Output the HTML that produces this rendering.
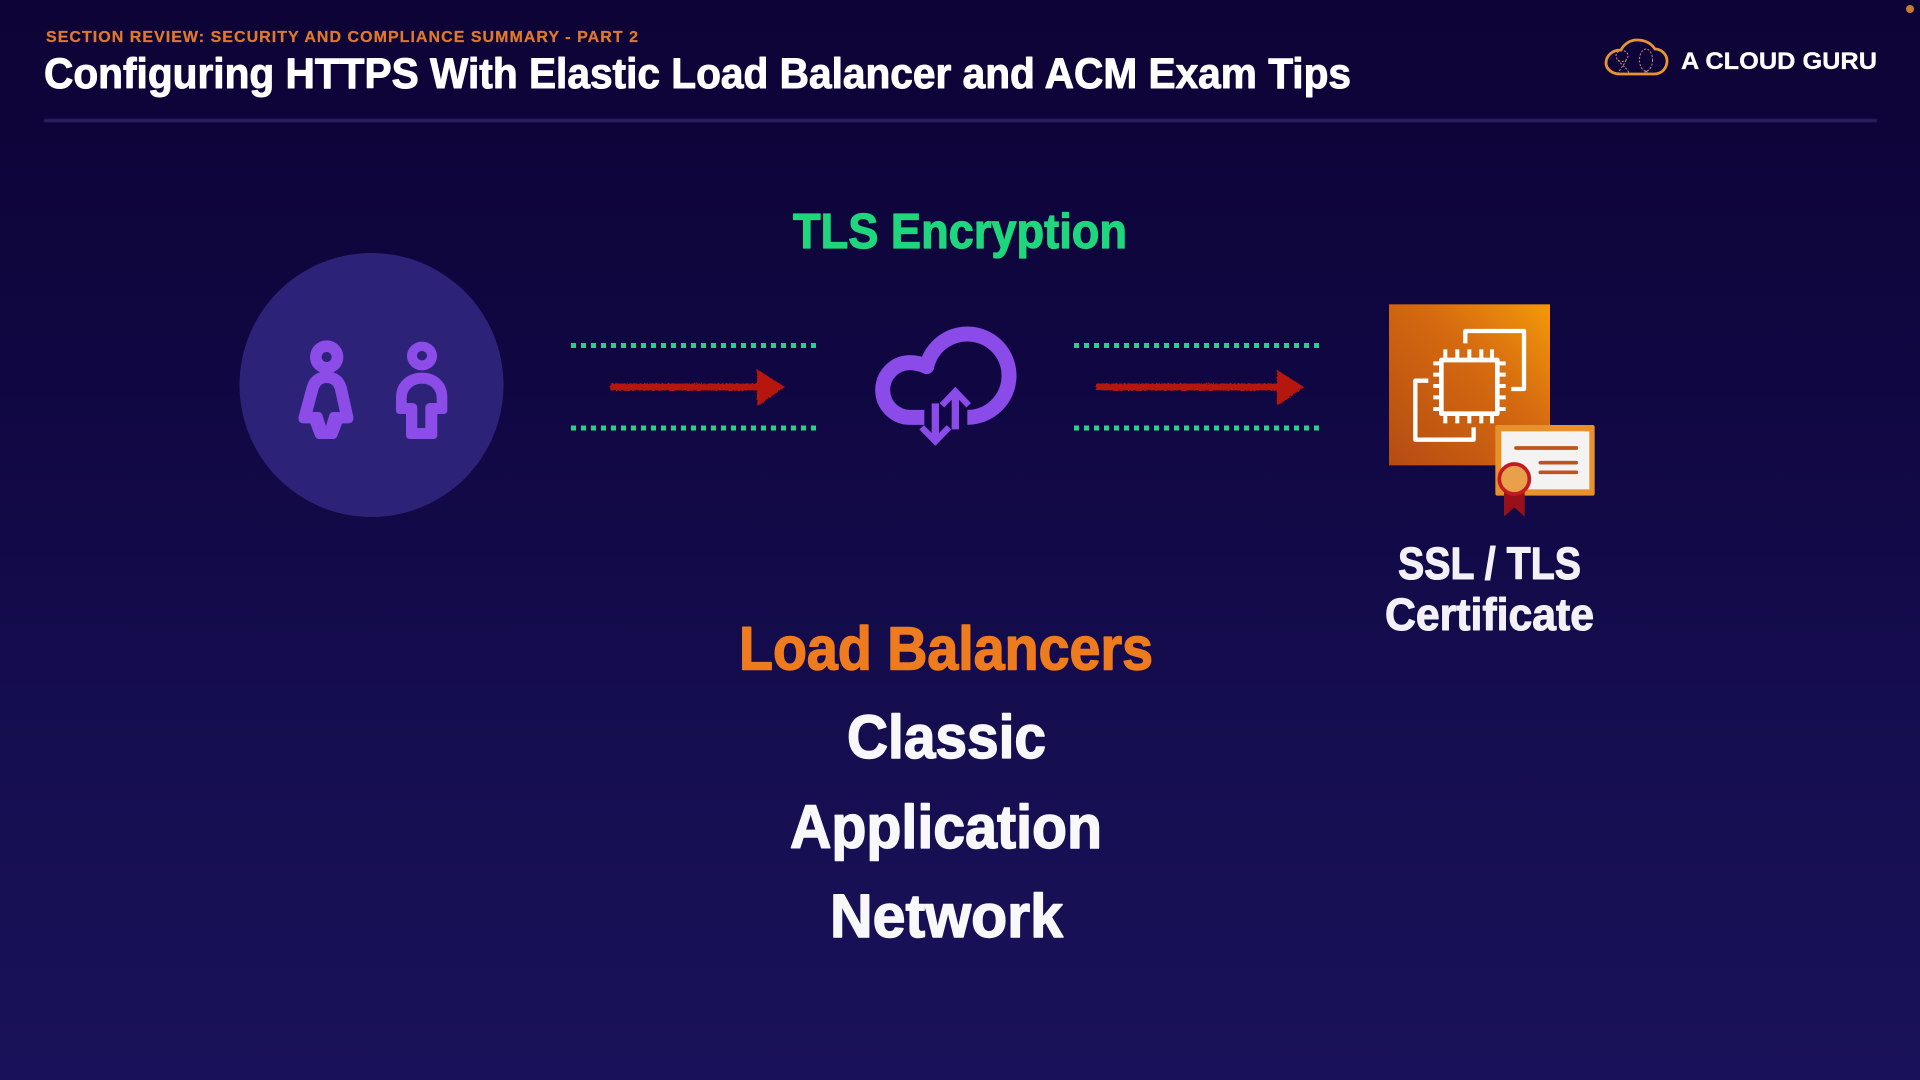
<!DOCTYPE html>
<html lang="en"><head><meta charset="utf-8"><title>Configuring HTTPS With Elastic Load Balancer and ACM Exam Tips</title>
<style>
html,body{margin:0;padding:0;width:1920px;height:1080px;overflow:hidden;background:#120a45}
svg{display:block}
text{font-family:"Liberation Sans",Arial,sans-serif;font-weight:700;stroke-linejoin:round}
</style></head><body>
<svg width="1920" height="1080" viewBox="0 0 1920 1080" xmlns="http://www.w3.org/2000/svg">
<defs>
<linearGradient id="bg" x1="0" y1="0" x2="0" y2="1">
<stop offset="0" stop-color="#0d0336"/><stop offset=".35" stop-color="#100742"/><stop offset=".7" stop-color="#150e50"/><stop offset="1" stop-color="#19125a"/>
</linearGradient>
<linearGradient id="aws" x1="0" y1="1" x2="1" y2="0">
<stop offset="0" stop-color="#b44c12"/><stop offset=".6" stop-color="#d56a10"/><stop offset="1" stop-color="#f3990b"/>
</linearGradient>
<filter id="rough" x="-5%" y="-50%" width="110%" height="200%">
<feTurbulence type="fractalNoise" baseFrequency=".5" numOctaves="2" seed="4"/>
<feDisplacementMap in="SourceGraphic" scale="3"/>
</filter>
<filter id="soft" x="-5%" y="-200%" width="110%" height="500%"><feGaussianBlur stdDeviation=".8"/></filter>
</defs>
<rect width="1920" height="1080" fill="url(#bg)"/>
<circle cx="1910" cy="9" r="4" fill="#cc7a33"/>

<!-- Header -->
<text x="46" y="42" font-size="16" fill="#e0782a" stroke="#e0782a" stroke-width=".25" textLength="592" lengthAdjust="spacing">SECTION REVIEW: SECURITY AND COMPLIANCE SUMMARY - PART 2</text>
<text x="44" y="88" font-size="43" fill="#ffffff" stroke="#ffffff" stroke-width="1" textLength="1307" lengthAdjust="spacingAndGlyphs">Configuring HTTPS With Elastic Load Balancer and ACM Exam Tips</text>
<rect x="44" y="119" width="1833" height="3" fill="#2a2260" filter="url(#soft)"/>

<!-- Logo -->
<g fill="none">
<path d="M1620 74 H1654 C1663 74 1667 67 1667 61 C1667 54 1661 49 1655 49 C1651 43 1645 40 1637 40 C1630 40 1624 44 1621 50 C1612 50 1606 56 1606 63 C1606 69 1612 74 1620 74 Z" stroke="#e8952f" stroke-width="2.800"/>
<g stroke="#c98a7a" stroke-width="1" stroke-dasharray="2 1.6">
<ellipse cx="1646" cy="60" rx="6.5" ry="11"/>
<path d="M1646 71 L1643 74 M1646 71 L1649 74"/>
<ellipse cx="1622" cy="56" rx="6" ry="5.500"/>
<path d="M1618 60 C1622 66 1628 68 1629 74 M1626 60 C1624 66 1620 68 1618 74"/>
</g>
</g>
<text x="1681" y="69" font-size="24" fill="#ffffff" stroke="#ffffff" stroke-width=".3" textLength="196" lengthAdjust="spacingAndGlyphs">A CLOUD GURU</text>

<!-- TLS title -->
<text x="793" y="248" font-size="49" fill="#1ed67c" stroke="#1ed67c" stroke-width="1.2" textLength="334" lengthAdjust="spacingAndGlyphs">TLS Encryption</text>

<!-- Users -->
<circle cx="371.500" cy="385" r="132" fill="#2c2278"/>
<g transform="translate(220 240) scale(.33333)" fill="#8b4ce8">
<path fill-rule="evenodd" d="M320 301a50 50 0 1 0 .01 0Z M320 336a15 15 0 1 1-.01 0Z"/>
<path fill-rule="evenodd" stroke="#8b4ce8" stroke-width="4" stroke-linejoin="round" d="M320 397 C355 397 370 415 378 440 L398 530 Q400 548 385 548 L365 548 L350 588 Q347 595 340 595 L297 595 Q290 595 287 588 L272 548 L250 548 Q235 548 238 530 L262 440 C270 415 285 397 320 397 Z M320 427 C305 427 297 435 293 450 L275 518 L295 518 Q302 518 305 525 L318 565 L330 525 Q333 518 340 518 L362 518 L347 450 C343 435 335 427 320 427 Z"/>
<path fill-rule="evenodd" d="M606 305a45 43 0 1 0 .01 0Z M606 333a15 14 0 1 1-.01 0Z"/>
<path fill-rule="evenodd" stroke="#8b4ce8" stroke-width="4" stroke-linejoin="round" d="M606 400 C650 400 680 430 680 470 L680 510 Q680 520 670 520 L650 520 L650 585 Q650 595 640 595 L570 595 Q560 595 560 585 L560 520 L540 520 Q530 520 530 510 L530 470 C530 430 562 400 606 400 Z M606 429 C580 429 558 447 558 475 L558 491 L575 491 Q590 491 590 505 L590 566 L618 566 L618 505 Q618 491 632 491 L652 491 L652 475 C652 447 632 429 606 429 Z"/>
</g>

<!-- Dotted lines -->
<g stroke="#27d288" stroke-width="5" stroke-dasharray="5 5" fill="none">
<path d="M571 345.500 H818"/>
<path d="M571 428 H818"/>
<path d="M1074 345.500 H1321"/>
<path d="M1074 428 H1321"/>
</g>

<!-- Red arrows -->
<g filter="url(#rough)" fill="#b5170f">
<rect x="610" y="383.500" width="152" height="7"/>
<path d="M757 370 Q756 369 758 370 L785 387 L759 405 Q757 406 757 404 Z"/>
<rect x="1096" y="383.500" width="185" height="7"/>
<path d="M1277 370 L1304 387 L1279 405 Q1277 406 1277 404 Z"/>
</g>

<!-- Cloud -->
<g transform="translate(560 310) scale(.33333)">
<path d="M1093 322 H1050 A82 82 0 0 1 1050 158 Q1075 158 1100 170 A125 125 0 1 1 1222 322" fill="none" stroke="#8a4be8" stroke-width="45" stroke-linecap="butt" stroke-linejoin="round"/>
<g fill="none" stroke="#8a4be8">
<path d="M1126 280 V392" stroke-width="22"/>
<path d="M1085 352 L1126 394 L1167 352" stroke-width="19"/>
<path d="M1186 358 V248" stroke-width="22"/>
<path d="M1146 286 L1186 244 L1226 286" stroke-width="19"/>
</g>
</g>

<!-- AWS icon + cert -->
<g transform="translate(1370 290) scale(.33333)">
<rect x="57" y="43" width="483" height="483" fill="url(#aws)"/>
<g fill="none" stroke="#ffffff" stroke-width="13" stroke-linejoin="round">
<path d="M286 160 V123 H462 V297 H424"/>
<path d="M175 272 H136 V449 H311 V412"/>
<rect x="214" y="210" width="168" height="161" stroke-width="14"/>
</g>
<g stroke="#ffffff" stroke-width="12" fill="none">
<path d="M226 178 V208 M262 178 V208 M298 178 V208 M334 178 V208 M366 178 V208"/>
<path d="M226 373 V400 M262 373 V400 M298 373 V400 M334 373 V400 M366 373 V400"/>
<path d="M190 220 H212 M190 254 H212 M190 288 H212 M190 322 H212 M190 357 H212"/>
<path d="M384 220 H407 M384 254 H407 M384 288 H407 M384 322 H407 M384 357 H407"/>
</g>
<rect x="376" y="405" width="298" height="212" rx="6" fill="#e8912a"/>
<rect x="394" y="424" width="264" height="174" fill="#f5f3f2"/>
<g stroke="#c0521c" stroke-width="11" stroke-linecap="round" fill="none">
<path d="M438 474 H619"/>
<path d="M511 518 H619"/>
<path d="M511 547 H619"/>
</g>
<path d="M402 600 H464 V680 L433 652 L402 680 Z" fill="#9a1018"/>
<circle cx="433" cy="567" r="45" fill="#e8a04a" stroke="#c21a22" stroke-width="11"/>
</g>

<!-- Labels -->
<g fill="#f3f1f6" stroke="#f3f1f6" stroke-width="1.1">
<text x="1398" y="579" font-size="45" textLength="183" lengthAdjust="spacingAndGlyphs">SSL / TLS</text>
<text x="1385" y="630" font-size="45" textLength="209" lengthAdjust="spacingAndGlyphs">Certificate</text>
</g>
<text x="739" y="669.500" font-size="61" fill="#ee7b1d" stroke="#ee7b1d" stroke-width="1.5" textLength="414" lengthAdjust="spacingAndGlyphs">Load Balancers</text>
<g fill="#f8f7fa" stroke="#f8f7fa" stroke-width="1.5">
<text x="847" y="758" font-size="61" textLength="199" lengthAdjust="spacingAndGlyphs">Classic</text>
<text x="790" y="848" font-size="61" textLength="312" lengthAdjust="spacingAndGlyphs">Application</text>
<text x="830" y="937" font-size="61" textLength="233" lengthAdjust="spacingAndGlyphs">Network</text>
</g>
</svg>
</body></html>
